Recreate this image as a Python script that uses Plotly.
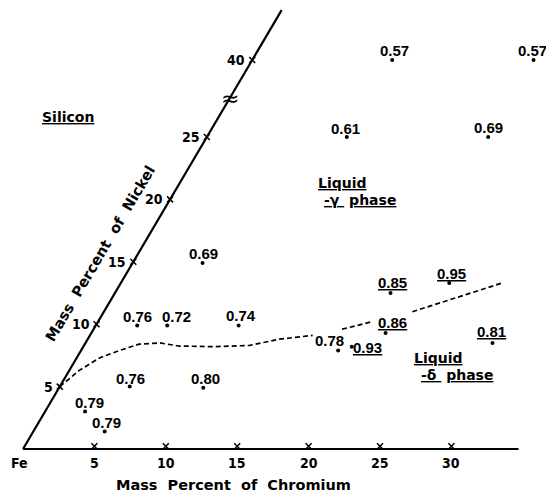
import plotly.graph_objects as go

# ---------------- data ----------------
cr_ticks = [5, 10, 15, 20, 25, 30]
cr_tick_labels = ["5", "10", "15", "20", "25", "30"]
ni_ticks = [5, 10, 15, 20, 25, 40]
ni_tick_labels = ["5", "10", "15", "20", "25", "40"]

# measured compositions (mass % Cr, mass % Ni) and their values
pt_cr = [9.8, 19.7, 9.8, 19.7, 4.9, 2.9, 5.0, 10.0, 4.9, 10.1, 2.8, 5.0,
         18.0, 18.8, 20.6, 19.3, 23.0, 28.5]
pt_ni = [40, 40, 25, 25, 14.9, 9.9, 9.9, 9.9, 5.0, 4.9, 3.0, 1.4,
         7.9, 8.2, 9.3, 12.5, 13.3, 8.5]
pt_val = ["0.57", "0.57", "0.61", "0.69", "0.69", "0.76", "0.72", "0.74",
          "0.76", "0.80", "0.79", "0.79", "0.78", "0.93", "0.86", "0.85",
          "0.95", "0.81"]
pt_delta = [False, False, False, False, False, False, False, False,
            False, False, False, False, False, True, True, True, True, True]

# dashed boundary between liquid-gamma and liquid-delta (None = gap)
bnd_cr = [0.0, 0.7, 1.6, 2.7, 3.8, 5.2, 6.7, 9.1, 11.6, 13.4, 15.6, None,
          17.4, 19.2, None, 21.6, 24.3, 26.7]
bnd_ni = [5.0, 6.3, 7.3, 7.9, 8.4, 8.5, 8.25, 8.2, 8.3, 8.8, 9.1, None,
          9.6, 10.2, None, 11.0, 12.2, 13.3]

cr_axis_max = 34.7
ni_axis_max = 44.0
ni_break = 28.1   # display position of the scale break

# ---------------- geometry helpers ----------------
W, H = 546, 498
OX, OY = 23.0, 449.0          # pixel position of Fe corner
SX, SY = 14.28, 12.48         # px per unit
SHEAR = 0.515                 # horizontal shift per Ni unit (Cr units)
BREAK_AT, BREAK_SHIFT = 27.5, 8.83


def ni_disp(ni):
    return ni if ni <= BREAK_AT else ni - BREAK_SHIFT


def to_xy(cr, ni):
    if cr is None or ni is None:
        return None, None
    y = ni_disp(ni)
    return cr + SHEAR * y, y


def paper(px, py):
    return px / W, 1 - py / H


fig = go.Figure()

# axes lines
ax_x = [to_xy(0, 0)[0], to_xy(cr_axis_max, 0)[0]]
fig.add_trace(go.Scatter(x=ax_x, y=[0, 0], mode="lines",
                         line=dict(color="black", width=2.2), hoverinfo="skip"))
top = ni_axis_max - BREAK_SHIFT
fig.add_trace(go.Scatter(x=[0, SHEAR * top], y=[0, top], mode="lines",
                         line=dict(color="black", width=2.2), hoverinfo="skip"))

# ticks on chromium axis
fig.add_trace(go.Scatter(x=cr_ticks, y=[0.22] * len(cr_ticks), mode="markers",
                         marker=dict(symbol="x-thin", size=6,
                                     line=dict(color="black", width=1.5)),
                         hoverinfo="skip"))
# ticks on nickel axis
nx = [to_xy(0, n)[0] for n in ni_ticks]
ny = [to_xy(0, n)[1] for n in ni_ticks]
fig.add_trace(go.Scatter(x=nx, y=ny, mode="markers",
                         marker=dict(symbol="x-thin", size=6,
                                     line=dict(color="black", width=1.5)),
                         hoverinfo="skip"))

# boundary
bx, by = zip(*[to_xy(c, n) for c, n in zip(bnd_cr, bnd_ni)])
fig.add_trace(go.Scatter(x=list(bx), y=list(by), mode="lines",
                         line=dict(color="black", width=1.7, dash="5px,3px"),
                         connectgaps=False, hoverinfo="skip"))

# points
px_, py_ = zip(*[to_xy(c, n) for c, n in zip(pt_cr, pt_ni)])
fig.add_trace(go.Scatter(x=list(px_), y=list(py_), mode="markers",
                         marker=dict(color="black", size=4), hoverinfo="skip"))

label_font = dict(family="Liberation Sans, Arial, DejaVu Sans",
                  size=15, color="black", weight="bold")
label_shift = [(2, 10), (-1, 10), (-1, 9), (0, 10), (1, 10), (0, 9), (9, 9),
               (2, 10), (1, 8), (2, 9), (4, 9), (2, 9), (-9, 10), (16, -1),
               (7, 10), (2, 11), (2, 10), (-1, 11)]
for x, y, v, d, (dx, dy) in zip(px_, py_, pt_val, pt_delta, label_shift):
    txt = f"<u>{v}</u>" if d else v
    fig.add_annotation(x=x, y=y, text=txt, showarrow=False, xshift=dx, yshift=dy,
                       font=label_font, xanchor="center", yanchor="middle")

tick_font = dict(family="DejaVu Sans Condensed, DejaVu Sans",
                 size=14, color="black", weight="bold")
# chromium tick labels
fig.add_annotation(x=0, y=0, text="Fe", showarrow=False, xshift=-4, yshift=-14,
                   font=tick_font, xanchor="center", yanchor="middle")
for t, lab in zip(cr_ticks, cr_tick_labels):
    fig.add_annotation(x=t, y=0, text=lab, showarrow=False, yshift=-14,
                       font=tick_font, xanchor="center", yanchor="middle")
# nickel tick labels
for x, y, lab in zip(nx, ny, ni_tick_labels):
    fig.add_annotation(x=x, y=y, text=lab, showarrow=False, xanchor="right",
                       yanchor="middle", xshift=-5, font=tick_font)

# scale break symbol
fig.add_annotation(x=SHEAR * ni_break, y=ni_break, text="≈", showarrow=False,
                   xanchor="center", yanchor="middle",
                   font=dict(family="DejaVu Sans", size=22, color="black"))

title_font = dict(family="DejaVu Sans", size=14.5, color="black", weight="bold")
sp = "&nbsp;&nbsp;"
xx, yy = paper(233, 485)
fig.add_annotation(xref="paper", yref="paper", x=xx, y=yy, showarrow=False,
                   xanchor="center", yanchor="middle",
                   text=f"Mass{sp}Percent{sp}of{sp}Chromium", font=title_font)
xx, yy = paper(100, 254)
fig.add_annotation(xref="paper", yref="paper", x=xx, y=yy, showarrow=False,
                   xanchor="center", yanchor="middle", textangle=-59.5,
                   text=f"Mass{sp}Percent{sp}of{sp}Nickel", font=title_font)

region_font = dict(family="DejaVu Sans", size=14, color="black", weight="bold")
for (cx, cy), txt in [((68, 117), "<u>Silicon</u>"),
                      ((342, 183), "<u>Liquid</u>"),
                      ((360, 200), "<u>-γ&nbsp;</u>&nbsp;<u>phase</u>"),
                      ((438, 358), "<u>Liquid</u>"),
                      ((457, 375), "<u>-δ&nbsp;</u>&nbsp;<u>phase</u>")]:
    xx, yy = paper(cx, cy)
    fig.add_annotation(xref="paper", yref="paper", x=xx, y=yy, showarrow=False,
                       xanchor="center", yanchor="middle",
                       text=txt, font=region_font)

fig.update_layout(
    width=W, height=H, margin=dict(l=0, r=0, t=0, b=0),
    paper_bgcolor="white", plot_bgcolor="white", showlegend=False,
    xaxis=dict(range=[-OX / SX, (W - OX) / SX], visible=False, fixedrange=True),
    yaxis=dict(range=[-(H - OY) / SY, OY / SY], visible=False, fixedrange=True),
)

fig.write_html("out.html", config={"displayModeBar": False},
               post_script="document.body.style.margin='0px';")
